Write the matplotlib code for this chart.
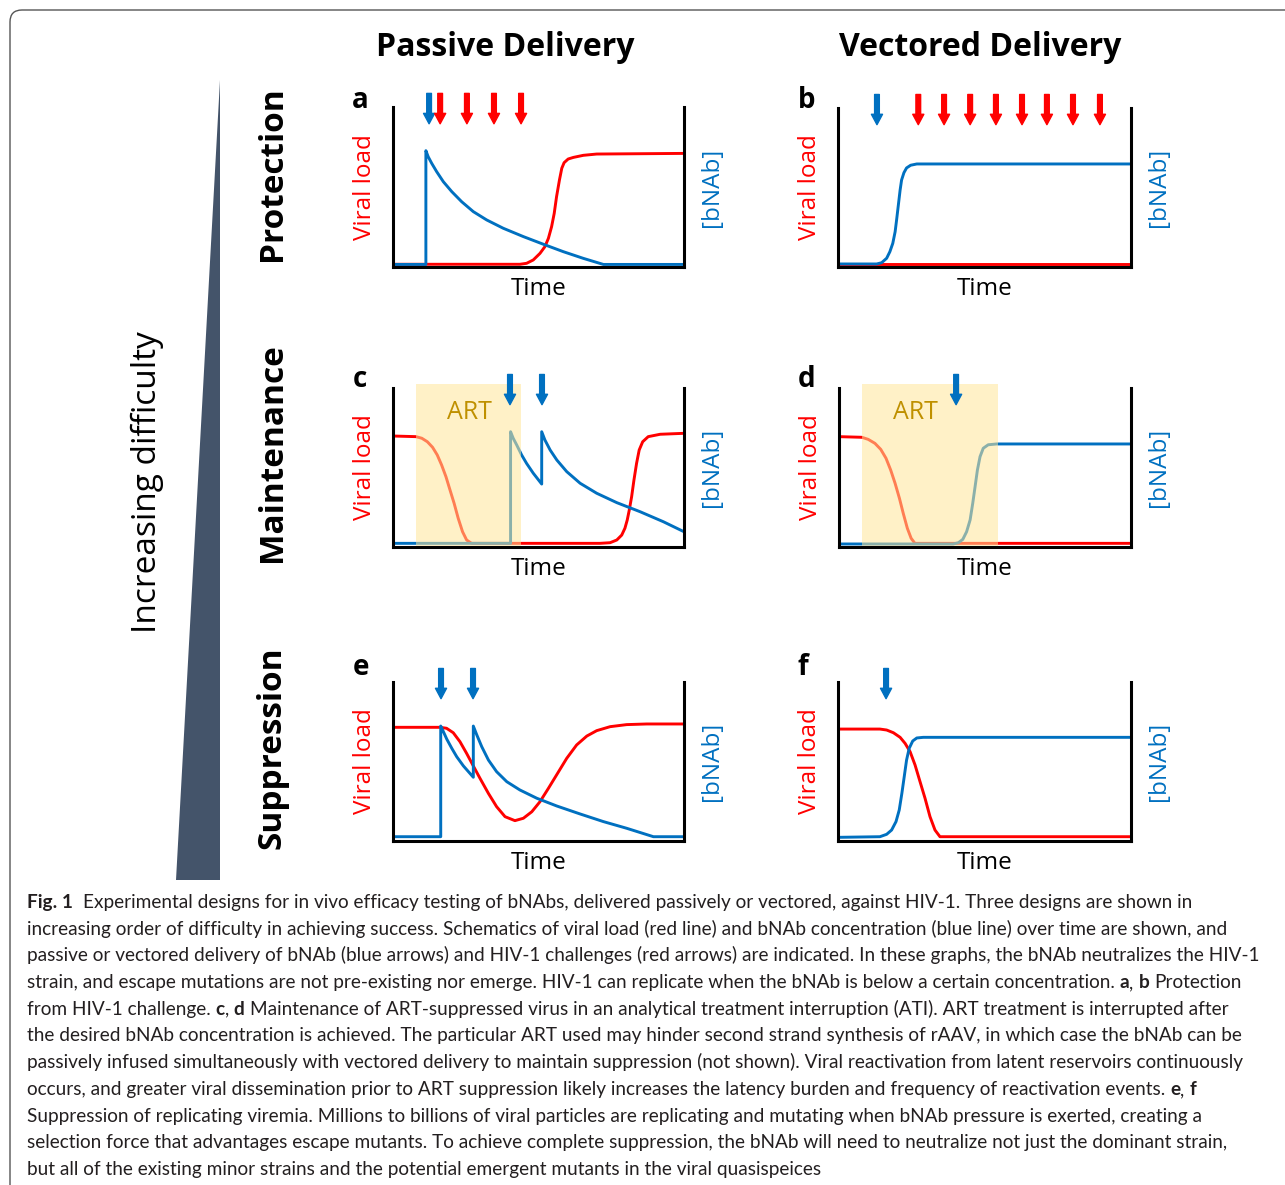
import matplotlib
matplotlib.use("Agg")
import matplotlib.pyplot as plt
from matplotlib.patches import Rectangle, Polygon, FancyBboxPatch
from matplotlib.transforms import IdentityTransform

W_PX, H_PX = 1285, 1185

RED = "#FF0000"
BLUE = "#0070C0"
ART_FILL = "#FFE699"
ART_TEXT = "#BF9000"
WEDGE = "#44546A"
FONT = ["Open Sans", "DejaVu Sans"]
CAP_FONT = ["Liberation Sans Narrow", "Lato", "DejaVu Sans"]

# schematic curves: time = % of panel width, level = % of panel height
A_T_VIRAL = [0, 43.6, 45.9, 48.2, 50.5, 52.2, 53.4, 54.5, 55.4, 56.2, 57.2, 58.0, 58.8, 60.2,
             62.0, 65.4, 70.0, 100]
A_VIRAL = [1.7, 1.7, 2.3, 4.4, 8.5, 12.7, 17.9, 25.2, 33.5, 43.9, 54.4, 61.7, 65.2, 67.5,
           68.5, 69.8, 70.6, 71.0]
A_T_BNAB = [0, 11.3, 11.3, 12.1, 13.3, 15.0, 17.3, 20.2, 23.6, 27.6, 32.2, 37.9, 44.8, 51.7,
            58.5, 65.4, 72.3, 100]
A_BNAB = [1.6, 1.6, 72.7, 68.9, 64.8, 59.6, 53.3, 47.1, 40.8, 34.6, 29.4, 24.2, 19.0, 14.2,
          9.6, 5.4, 1.6, 1.6]
A_DOSES = [12.4]
A_CHALLENGES = [16.2, 25.4, 34.7, 44.0]

B_T_VIRAL = [0, 100]
B_VIRAL = [1.7, 1.7]
B_T_BNAB = [0, 13.2, 14.9, 16.6, 17.7, 18.7, 19.5, 20.0, 20.6, 21.2, 21.7, 22.5, 23.4, 24.8,
            26.9, 100]
B_BNAB = [1.9, 1.9, 2.7, 5.5, 9.6, 14.9, 22.2, 29.6, 39.0, 48.4, 54.7, 59.3, 62.3, 64.0,
          64.8, 64.8]
B_DOSES = [13.3]
B_CHALLENGES = [27.4, 36.2, 45.1, 53.9, 62.8, 71.3, 80.2, 89.4]

C_T_VIRAL = [0, 7.9, 9.9, 11.8, 13.6, 15.2, 16.7, 18.2, 19.6, 21.0, 22.4, 23.9, 25.3, 27.0,
             71.1, 74.6, 76.9, 78.6, 79.7, 80.5, 81.2, 82.0, 82.8, 83.7, 84.6, 85.8, 87.7,
             91.8, 100]
C_VIRAL = [69.8, 69.4, 68.4, 66.2, 62.7, 57.9, 51.6, 44.2, 35.8, 27.5, 18.1, 9.6, 4.4, 2.3,
           2.3, 2.7, 4.4, 7.5, 11.8, 17.0, 23.3, 31.6, 42.1, 52.6, 61.0, 66.2, 69.4, 70.9, 71.5]
C_T_BNAB = [0, 40.4, 40.4, 41.3, 42.5, 44.2, 45.9, 48.2, 51.1, 51.1, 52.2, 54.0, 56.3, 59.7,
            64.3, 70.0, 76.9, 84.9, 92.9, 100]
C_BNAB = [2.3, 2.3, 72.5, 68.4, 64.2, 57.9, 52.6, 46.4, 39.6, 72.5, 67.3, 61.0, 54.7, 47.4,
          40.1, 33.8, 27.9, 22.2, 15.9, 9.6]
C_DOSES = [40.2, 51.2]
C_ART = (7.9, 44.0)

D_T_VIRAL = [0, 7.8, 10.0, 12.3, 14.3, 16.1, 17.7, 19.2, 20.7, 22.0, 23.4, 24.7, 26.0, 100]
D_VIRAL = [69.4, 69.0, 67.7, 65.2, 61.4, 55.8, 48.4, 40.1, 30.6, 21.2, 11.8, 5.5, 2.3, 2.3]
D_T_BNAB = [0, 39.1, 40.9, 42.4, 43.7, 44.9, 45.8, 46.6, 47.4, 48.3, 49.4, 51.1, 54.0, 100]
D_BNAB = [1.9, 1.9, 2.7, 4.8, 9.6, 17.0, 27.5, 37.9, 48.4, 56.8, 62.1, 64.3, 64.8, 64.8]
D_DOSES = [40.1]
D_ART = (7.9, 54.6)

E_T_VIRAL = [0, 16.2, 18.4, 20.7, 23.0, 25.3, 27.6, 29.9, 32.8, 35.6, 38.5, 41.9, 44.8, 47.7,
             50.5, 53.4, 56.2, 59.7, 63.1, 66.6, 70.0, 74.6, 80.3, 87.2, 100]
E_VIRAL = [71.5, 71.5, 70.9, 68.1, 62.5, 55.1, 47.2, 39.4, 29.9, 21.6, 15.3, 12.8, 14.3, 18.4,
           24.7, 33.1, 41.5, 52.0, 60.4, 66.0, 69.4, 71.9, 73.2, 73.6, 73.6]
E_T_BNAB = [0, 16.4, 16.4, 17.3, 18.5, 20.2, 21.9, 24.2, 27.6, 27.6, 28.8, 30.5, 32.8, 35.6,
            39.1, 43.6, 49.4, 56.3, 64.3, 72.3, 80.3, 89.5, 100]
E_BNAB = [2.7, 2.7, 72.3, 68.8, 64.0, 58.3, 53.0, 47.2, 40.1, 72.3, 66.7, 59.3, 50.9, 43.6,
          37.3, 32.1, 26.9, 22.0, 17.0, 12.2, 8.0, 2.7, 2.7]
E_DOSES = [16.5, 27.5]

F_T_VIRAL = [0, 14.3, 16.6, 18.9, 21.2, 22.9, 24.6, 26.3, 28.0, 29.7, 31.4, 33.1, 34.8, 100]
F_VIRAL = [70.4, 70.4, 69.8, 68.1, 65.2, 61.4, 56.2, 47.8, 37.3, 26.9, 15.3, 6.9, 2.7, 2.7]
F_T_BNAB = [0, 14.3, 16.6, 18.3, 19.8, 20.9, 21.8, 22.6, 23.4, 24.3, 25.5, 26.9, 29.1, 100]
F_BNAB = [2.3, 2.7, 4.2, 6.9, 12.2, 19.5, 30.0, 40.4, 50.9, 58.3, 62.9, 64.8, 65.2, 65.2]
F_DOSES = [16.4]

COLUMNS = ["Passive Delivery", "Vectored Delivery"]
ROWS = ["Protection", "Maintenance", "Suppression"]

CAPTION = [
    [("Fig. 1", True), ("  Experimental designs for in vivo efficacy testing of bNAbs, delivered passively or vectored, against HIV-1. Three designs are shown in", False)],
    [("increasing order of difficulty in achieving success. Schematics of viral load (red line) and bNAb concentration (blue line) over time are shown, and", False)],
    [("passive or vectored delivery of bNAb (blue arrows) and HIV-1 challenges (red arrows) are indicated. In these graphs, the bNAb neutralizes the HIV-1", False)],
    [("strain, and escape mutations are not pre-existing nor emerge. HIV-1 can replicate when the bNAb is below a certain concentration. ", False),
     ("a", True), (", ", False), ("b", True), (" Protection", False)],
    [("from HIV-1 challenge. ", False), ("c", True), (", ", False), ("d", True),
     (" Maintenance of ART-suppressed virus in an analytical treatment interruption (ATI). ART treatment is interrupted after", False)],
    [("the desired bNAb concentration is achieved. The particular ART used may hinder second strand synthesis of rAAV, in which case the bNAb can be", False)],
    [("passively infused simultaneously with vectored delivery to maintain suppression (not shown). Viral reactivation from latent reservoirs continuously", False)],
    [("occurs, and greater viral dissemination prior to ART suppression likely increases the latency burden and frequency of reactivation events. ", False),
     ("e", True), (", ", False), ("f", True)],
    [("Suppression of replicating viremia. Millions to billions of viral particles are replicating and mutating when bNAb pressure is exerted, creating a", False)],
    [("selection force that advantages escape mutants. To achieve complete suppression, the bNAb will need to neutralize not just the dominant strain,", False)],
    [("but all of the existing minor strains and the potential emergent mutants in the viral quasispeices", False)],
]

ARROW_TAIL, ARROW_TIP = 108.5, 89.5


def fx(px):
    return px / W_PX


def fy(py):
    return 1 - py / H_PX


def add_arrow(ax, t, color):
    ax.annotate("", xy=(t, ARROW_TIP), xytext=(t, ARROW_TAIL),
                arrowprops=dict(arrowstyle="simple,head_length=0.75,head_width=0.8,tail_width=0.34",
                                color=color, shrinkA=0, shrinkB=0, mutation_scale=10),
                annotation_clip=False, zorder=6)


def draw_panel(fig, box, letter, letter_xy, t_viral, viral, t_bnab, bnab,
               doses, challenges=(), art=None):
    left, right, top, bottom = box
    ax = fig.add_axes([fx(left), fy(bottom), (right - left) / W_PX, (bottom - top) / H_PX])
    ax.set_xlim(0, 100)
    ax.set_ylim(0, 100)
    ax.plot(t_viral, viral, color=RED, lw=2.1, zorder=2, solid_joinstyle="round")
    ax.plot(t_bnab, bnab, color=BLUE, lw=2.1, zorder=2.1, solid_joinstyle="round")
    if art is not None:
        ax.add_patch(Rectangle((art[0], 0), art[1] - art[0], 102.5, facecolor=ART_FILL,
                               alpha=0.55, edgecolor="none", zorder=2.3, clip_on=False))
        ax.text(art[0] + 18.2, 84.3, "ART", color=ART_TEXT, fontsize=18,
                family=FONT, ha="center", va="center", zorder=5)
    for t in doses:
        add_arrow(ax, t, BLUE)
    for t in challenges:
        add_arrow(ax, t, RED)
    ax.spines["top"].set_visible(False)
    for s in ("left", "right", "bottom"):
        ax.spines[s].set_linewidth(2.2)
        ax.spines[s].set_color("black")
        ax.spines[s].set_zorder(2.5)
    ax.set_xticks([])
    ax.set_yticks([])
    ax.text(0.5, -0.14, "Time", transform=ax.transAxes, ha="center", va="center",
            fontsize=17.5, family=FONT)
    ax.text(-0.096, 0.5, "Viral load", transform=ax.transAxes, rotation=90, color=RED,
            ha="center", va="center", fontsize=17.5, family=FONT)
    ax.text(1.096, 0.5, "[bNAb]", transform=ax.transAxes, rotation=90, color=BLUE,
            ha="center", va="center", fontsize=17.5, family=FONT)
    fig.text(fx(letter_xy[0]), fy(letter_xy[1]), letter, fontsize=20, fontweight="bold",
             family=FONT, ha="left", va="baseline")
    return ax


fig = plt.figure(figsize=(W_PX / 100, H_PX / 100), dpi=100)

# outer frame with rounded corner
frame = FancyBboxPatch((10, -60), 1400, H_PX - 10 + 60, boxstyle="round,pad=0,rounding_size=12",
                       transform=IdentityTransform(), facecolor="none", edgecolor="#555555", lw=1.0)
fig.add_artist(frame)

# difficulty wedge
wedge = Polygon([(220, H_PX - 80), (220, H_PX - 880), (176, H_PX - 880)], closed=True,
                transform=IdentityTransform(), facecolor=WEDGE, edgecolor="none")
fig.add_artist(wedge)
fig.text(fx(147), fy(482), "Increasing difficulty", rotation=90, ha="center", va="center",
         fontsize=24, family=FONT)

for label, cx in zip(COLUMNS, [505, 980]):
    fig.text(fx(cx), fy(48), label, ha="center", va="center", fontsize=23,
             fontweight="bold", family=FONT)
for label, cy in zip(ROWS, [174, 453, 748]):
    fig.text(fx(272), fy(cy), label, rotation=90, ha="center", va="center", fontsize=24,
             fontweight="bold", family=FONT)

draw_panel(fig, (393, 684, 107, 267), "a", (352, 108), A_T_VIRAL, A_VIRAL, A_T_BNAB, A_BNAB,
           A_DOSES, A_CHALLENGES)
draw_panel(fig, (838, 1131, 108, 267), "b", (798, 108), B_T_VIRAL, B_VIRAL, B_T_BNAB, B_BNAB,
           B_DOSES, B_CHALLENGES)
draw_panel(fig, (393, 684, 388, 547), "c", (353, 387), C_T_VIRAL, C_VIRAL, C_T_BNAB, C_BNAB,
           C_DOSES, art=C_ART)
draw_panel(fig, (839, 1131, 388, 547), "d", (798, 387), D_T_VIRAL, D_VIRAL, D_T_BNAB, D_BNAB,
           D_DOSES, art=D_ART)
draw_panel(fig, (393, 684, 682, 841), "e", (353, 675), E_T_VIRAL, E_VIRAL, E_T_BNAB, E_BNAB,
           E_DOSES)
draw_panel(fig, (838, 1131, 682, 841), "f", (798, 675), F_T_VIRAL, F_VIRAL, F_T_BNAB, F_BNAB,
           F_DOSES)

# caption, laid out segment by segment so bold runs sit inline
renderer = fig.canvas.get_renderer()


def text_width(s, size, bold):
    t = fig.text(0, 0, s, fontsize=size, fontweight="bold" if bold else "normal", family=CAP_FONT)
    w = t.get_window_extent(renderer).width
    t.remove()
    return w


def line_width(segments, size):
    sp = text_width("a a", size, False) - text_width("aa", size, False)
    total = 0
    for seg, bold in segments:
        core = seg.strip(" ")
        total += (len(seg) - len(core)) * sp + text_width(core, size, bold)
    return total


widest = max(line_width(segs, 14) for segs in CAPTION)
cap_size = 14 * 1236 / widest
space = text_width("a a", cap_size, False) - text_width("aa", cap_size, False)
for i, segments in enumerate(CAPTION):
    x = 27
    y = 908 + 26.7 * i
    for seg, bold in segments:
        lead = len(seg) - len(seg.lstrip(" "))
        trail = len(seg) - len(seg.rstrip(" "))
        core = seg.strip(" ")
        x += lead * space
        fig.text(fx(x), fy(y), core, fontsize=cap_size, family=CAP_FONT, color="#231F20",
                 fontweight="bold" if bold else "normal", ha="left", va="baseline")
        x += text_width(core, cap_size, bold) + trail * space

fig.savefig("out.png", dpi=100)
